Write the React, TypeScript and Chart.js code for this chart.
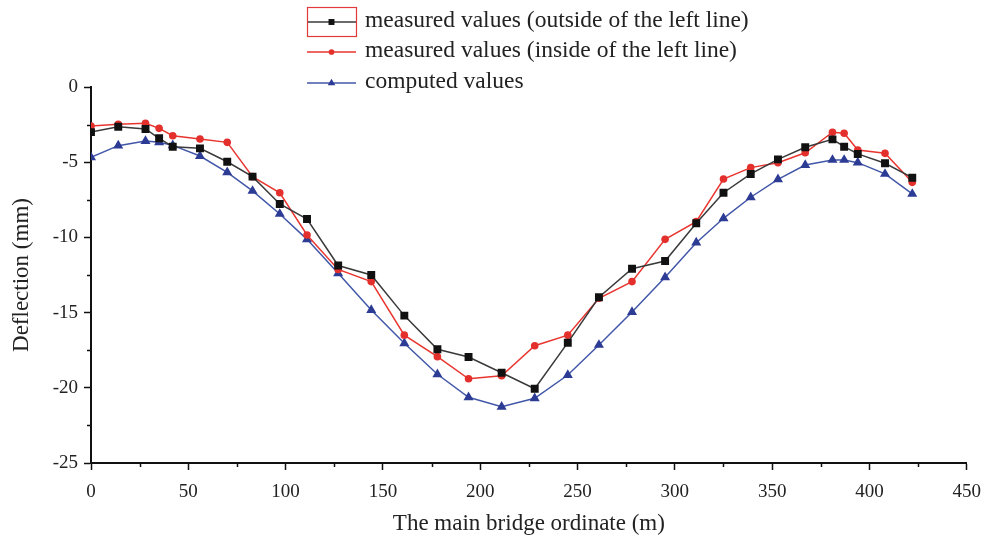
import React, { useEffect, useRef } from 'react';
import { Chart, registerables } from 'chart.js';

Chart.register(...registerables);

// Main bridge ordinate (m)
const ordinates = [0, 14, 28, 35, 42, 56, 70, 83, 97, 111, 127, 144, 161, 178, 194, 211, 228, 245, 261, 278, 295, 311, 325, 339, 353, 367, 381, 387, 394, 408, 422];
// Deflection (mm)
const outsideLeft = [-3.0, -2.64, -2.79, -3.41, -3.97, -4.08, -4.97, -5.96, -7.78, -8.78, -11.87, -12.5, -15.2, -17.44, -17.95, -19.0, -20.06, -17.0, -13.98, -12.08, -11.57, -9.06, -7.03, -5.78, -4.81, -4.01, -3.48, -3.97, -4.45, -5.07, -6.03];
const insideLeft = [-2.59, -2.48, -2.41, -2.75, -3.24, -3.46, -3.68, -5.96, -7.03, -9.84, -12.13, -12.94, -16.5, -17.93, -19.4, -19.2, -17.2, -16.5, -14.05, -12.94, -10.13, -8.95, -6.12, -5.36, -5.03, -4.37, -3.01, -3.08, -4.19, -4.41, -6.34];
const computed = [-4.67, -3.9, -3.59, -3.68, -3.88, -4.59, -5.67, -6.91, -8.44, -10.13, -12.39, -14.83, -17.04, -19.1, -20.63, -21.26, -20.7, -19.15, -17.15, -14.96, -12.65, -10.35, -8.73, -7.33, -6.14, -5.19, -4.85, -4.85, -5.03, -5.78, -7.11];

const seriesNames = [
  'measured values (outside of the left line)',
  'measured values (inside of the left line)',
  'computed values',
];

const xMinorTicks = [25, 75, 125, 175, 225, 275, 325, 375, 425];
const yMinorTicks = [-2.5, -7.5, -12.5, -17.5, -22.5];

const FONT = "'Liberation Serif', 'Times New Roman', serif";

function drawMarker(ctx: CanvasRenderingContext2D, style: string, x: number, y: number, r: number, color: string) {
  ctx.save();
  ctx.fillStyle = color;
  ctx.beginPath();
  if (style === 'rect') {
    const s = r * Math.SQRT1_2;
    ctx.rect(x - s, y - s, 2 * s, 2 * s);
  } else if (style === 'triangle') {
    ctx.moveTo(x, y - r);
    ctx.lineTo(x + r * 0.866, y + r * 0.5);
    ctx.lineTo(x - r * 0.866, y + r * 0.5);
    ctx.closePath();
  } else {
    ctx.arc(x, y, r, 0, Math.PI * 2);
  }
  ctx.fill();
  ctx.restore();
}

const legendPlugin = {
  id: 'verticalLegend',
  afterDraw(chart: any) {
    const ctx: CanvasRenderingContext2D = chart.ctx;
    const rows = [22, 52, 83];
    const x0 = 307;
    const x1 = 356;
    ctx.save();
    chart.data.datasets.forEach((ds: any, i: number) => {
      const y = rows[i];
      ctx.strokeStyle = ds.borderColor;
      ctx.lineWidth = 1.5;
      ctx.beginPath();
      ctx.moveTo(x0, y);
      ctx.lineTo(x1, y);
      ctx.stroke();
      drawMarker(ctx, ds.pointStyle, (x0 + x1) / 2, y, ds.pointRadius * 0.75, ds.pointBackgroundColor);
      ctx.fillStyle = '#222';
      ctx.font = `23.5px ${FONT}`;
      ctx.textBaseline = 'middle';
      ctx.textAlign = 'left';
      ctx.fillText(ds.label, 365, y - 1);
    });
    // highlight box around first legend symbol
    ctx.strokeStyle = '#e03a3a';
    ctx.lineWidth = 1.2;
    ctx.strokeRect(307.5, 7.5, 49, 29);
    ctx.restore();
  },
};

const minorTickPlugin = {
  id: 'minorTicks',
  afterDraw(chart: any) {
    const ctx: CanvasRenderingContext2D = chart.ctx;
    const xs = chart.scales.x;
    const ys = chart.scales.y;
    const area = chart.chartArea;
    ctx.save();
    ctx.strokeStyle = '#111';
    ctx.lineWidth = 1.5;
    ctx.beginPath();
    xMinorTicks.forEach((v) => {
      const px = Math.round(xs.getPixelForValue(v)) + 0.5;
      ctx.moveTo(px, area.bottom);
      ctx.lineTo(px, area.bottom + 4);
    });
    yMinorTicks.forEach((v) => {
      const py = Math.round(ys.getPixelForValue(v)) + 0.5;
      ctx.moveTo(area.left, py);
      ctx.lineTo(area.left - 4, py);
    });
    ctx.stroke();
    ctx.restore();
  },
};

export default function App() {
  const canvasRef = useRef<HTMLCanvasElement | null>(null);

  useEffect(() => {
    const canvas = canvasRef.current;
    if (!canvas) return;
    const mk = (vals: number[]) => ordinates.map((x, i) => ({ x, y: vals[i] }));
    const chart = new Chart(canvas, {
      type: 'line',
      data: {
        datasets: [
          {
            label: seriesNames[0],
            data: mk(outsideLeft),
            borderColor: '#3a3a3a',
            borderWidth: 1.5,
            pointStyle: 'rect',
            pointRadius: 5.6,
            pointBackgroundColor: '#111111',
            pointBorderColor: '#111111',
            pointBorderWidth: 0,
            tension: 0,
          },
          {
            label: seriesNames[1],
            data: mk(insideLeft),
            borderColor: '#e8352f',
            borderWidth: 1.5,
            pointStyle: 'circle',
            pointRadius: 3.8,
            pointBackgroundColor: '#e3302c',
            pointBorderColor: '#e3302c',
            pointBorderWidth: 0,
            tension: 0,
          },
          {
            label: seriesNames[2],
            data: mk(computed),
            borderColor: '#4257a8',
            borderWidth: 1.5,
            pointStyle: 'triangle',
            pointRadius: 5.8,
            pointBackgroundColor: '#2c3b94',
            pointBorderColor: '#2c3b94',
            pointBorderWidth: 0,
            tension: 0,
          },
        ],
      } as any,
      options: {
        animation: false,
        responsive: false,
        maintainAspectRatio: false,
        layout: { padding: { left: 0, top: 87, right: 25, bottom: 0 } },
        plugins: {
          legend: { display: false },
          tooltip: { enabled: false },
        },
        scales: {
          x: {
            type: 'linear',
            min: 0,
            max: 450,
            afterFit: (s: any) => { s.height = 77; },
            border: { display: true, color: '#111', width: 2 },
            grid: { drawOnChartArea: false, drawTicks: true, tickLength: 7, tickColor: '#111', tickWidth: 1.5 },
            ticks: { stepSize: 50, color: '#222', font: { family: FONT, size: 19 }, padding: 11, maxRotation: 0 },
            title: { display: true, text: 'The main bridge ordinate (m)', color: '#222', font: { family: FONT, size: 23 }, padding: { top: 0, bottom: 2 } },
          },
          y: {
            type: 'linear',
            min: -25,
            max: 0,
            afterFit: (s: any) => { s.width = 91; },
            border: { display: true, color: '#111', width: 2 },
            grid: { drawOnChartArea: false, drawTicks: true, tickLength: 7, tickColor: '#111', tickWidth: 1.5 },
            ticks: { stepSize: 5, color: '#222', font: { family: FONT, size: 19 }, padding: 6 },
            title: { display: true, text: 'Deflection (mm)', color: '#222', font: { family: FONT, size: 23 }, padding: { top: 8, bottom: 0 } },
          },
        },
      } as any,
      plugins: [legendPlugin, minorTickPlugin],
    });
    return () => chart.destroy();
  }, []);

  return (
    <div style={{ position: 'absolute', left: 0, top: 0, width: 992, height: 540, background: '#fff' }}>
      <canvas ref={canvasRef} width={992} height={540} style={{ width: 992, height: 540, display: 'block' }} />
    </div>
  );
}
